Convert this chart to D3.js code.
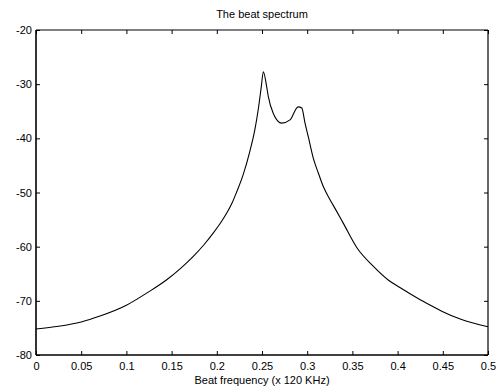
<!DOCTYPE html>
<html>
<head>
<meta charset="utf-8">
<script src="https://cdn.jsdelivr.net/npm/d3@7"></script>
<style>
  body { margin: 0; background: #fff; }
  text { font-family: "Liberation Sans", Arial, sans-serif; font-size: 11px; fill: #000; }
</style>
</head>
<body>
<div id="chart"></div>
<script>
// beat frequency (x 120 KHz) and spectrum level
const freq = [0, 0.025, 0.05, 0.0708, 0.1, 0.125, 0.1446, 0.16, 0.174, 0.186, 0.196, 0.205,
  0.211, 0.217, 0.222, 0.229, 0.2367, 0.242, 0.246, 0.2492, 0.2515, 0.2552, 0.257, 0.2625, 0.2718,
  0.281, 0.29, 0.294, 0.2976, 0.3012, 0.3068, 0.3123, 0.3178, 0.3245, 0.332, 0.34, 0.355, 0.373,
  0.39, 0.403, 0.425, 0.443, 0.45, 0.47, 0.5];
const level = [-75.2, -74.7, -73.9, -72.8, -70.8, -68.3, -66.1, -64.0, -61.8, -59.6, -57.5, -55.4,
  -53.8, -51.9, -49.9, -46.8, -42.3, -38.5, -34.5, -30.5, -27.7, -30.5, -32.3, -35.4, -37.2,
  -36.6, -34.2, -34.4, -37.2, -39.7, -43.7, -46.4, -48.9, -51.1, -53.3, -55.7, -60.2, -63.6,
  -66.2, -67.6, -69.8, -71.4, -72.0, -73.4, -74.8];
const xTicks = [0, 0.05, 0.1, 0.15, 0.2, 0.25, 0.3, 0.35, 0.4, 0.45, 0.5];
const yTicks = [-80, -70, -60, -50, -40, -30, -20];
const title = 'The beat spectrum';
const xTitle = 'Beat frequency (x 120 KHz)';

const width = 499, height = 392;
const margin = {top: 30, right: 11, bottom: 37, left: 36};

const svg = d3.select('#chart').append('svg')
  .attr('width', width)
  .attr('height', height);

const x = d3.scaleLinear().domain([0, 0.5]).range([margin.left, width - margin.right]);
const y = d3.scaleLinear().domain([-80, -20]).range([height - margin.bottom, margin.top]);

const tick = 4;
const plain = d => String(d);

// bottom axis + labels
const gBottom = svg.append('g')
  .attr('transform', `translate(0,${y(-80)})`)
  .call(d3.axisBottom(x).tickValues(xTicks).tickSize(-tick).tickPadding(7).tickFormat(plain));
// top ticks
const gTop = svg.append('g')
  .attr('transform', `translate(0,${y(-20)})`)
  .call(d3.axisTop(x).tickValues(xTicks).tickSize(-tick).tickFormat(''));
// left axis + labels
const gLeft = svg.append('g')
  .attr('transform', `translate(${x(0)},0)`)
  .call(d3.axisLeft(y).tickValues(yTicks).tickSize(-tick).tickPadding(4).tickFormat(plain));
// right ticks
const gRight = svg.append('g')
  .attr('transform', `translate(${x(0.5)},0)`)
  .call(d3.axisRight(y).tickValues(yTicks).tickSize(-tick).tickFormat(''));

[gBottom, gTop, gLeft, gRight].forEach(g => {
  g.select('.domain').remove();
  g.selectAll('line').attr('stroke', '#000');
  g.selectAll('text').attr('font-size', 11).attr('font-family', '"Liberation Sans", Arial, sans-serif');
});
gBottom.selectAll('text').attr('dy', '0.71em').attr('y', 7);

// box
svg.append('line').attr('x1', x(0)).attr('x2', x(0.5)).attr('y1', y(-20)).attr('y2', y(-20))
  .attr('stroke', '#000').attr('stroke-width', 1.2);
svg.append('line').attr('x1', x(0.5)).attr('x2', x(0.5)).attr('y1', y(-20)).attr('y2', y(-80))
  .attr('stroke', '#000').attr('stroke-width', 1.2);
svg.append('line').attr('x1', x(0)).attr('x2', x(0)).attr('y1', y(-20)).attr('y2', y(-80))
  .attr('stroke', '#000').attr('stroke-width', 1.6);
svg.append('line').attr('x1', x(0)).attr('x2', x(0.5)).attr('y1', y(-80)).attr('y2', y(-80))
  .attr('stroke', '#000').attr('stroke-width', 1.6);

// spectrum curve
const pts = freq.map((f, i) => [f, level[i]]);
svg.append('path')
  .datum(pts)
  .attr('fill', 'none')
  .attr('stroke', '#000')
  .attr('stroke-width', 1.1)
  .attr('d', d3.line().x(d => x(d[0])).y(d => y(d[1])).curve(d3.curveMonotoneX));

svg.append('text')
  .attr('x', (x(0) + x(0.5)) / 2)
  .attr('y', 18)
  .attr('text-anchor', 'middle')
  .text(title);

svg.append('text')
  .attr('x', (x(0) + x(0.5)) / 2)
  .attr('y', 384)
  .attr('text-anchor', 'middle')
  .text(xTitle);
</script>
</body>
</html>
